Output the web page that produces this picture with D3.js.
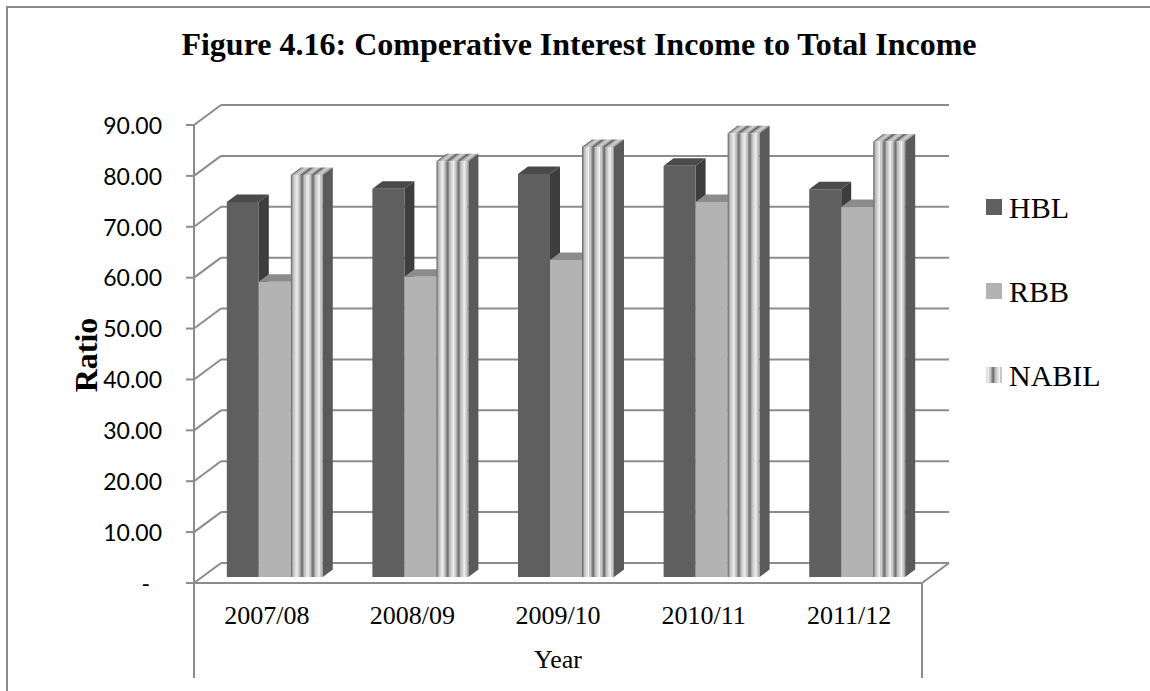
<!DOCTYPE html>
<html>
<head>
<meta charset="utf-8">
<script src="https://cdn.jsdelivr.net/npm/d3@7/dist/d3.min.js"></script>
<style>
  body { margin: 0; background: #fff; }
  svg { display: block; }
</style>
</head>
<body>
<svg id="chart"></svg>
<script>
// data
const years = ["2007/08", "2008/09", "2009/10", "2010/11", "2011/12"];
const seriesNames = ["HBL", "RBB", "NABIL"];
const hbl = [73.7, 76.3, 79.2, 80.8, 76.2];
const rbb = [58.0, 59.0, 62.3, 73.7, 72.7];
const nabil = [79.0, 81.7, 84.5, 87.2, 85.6];
const yTicks = [0, 10, 20, 30, 40, 50, 60, 70, 80, 90];

const W = 1150, H = 691;
const serif = "'Liberation Serif', 'Times New Roman', serif";
const sans = "Lato, 'Open Sans', sans-serif";

const svg = d3.select("#chart").attr("width", W).attr("height", H);

// frame
svg.append("rect")
    .attr("x", 7).attr("y", 7)
    .attr("width", W + 20).attr("height", H + 20)
    .attr("fill", "none").attr("stroke", "#8a8a8a").attr("stroke-width", 2);

// front plane geometry
const plotLeft = 194, plotRight = 922, plotBase = 583, plotTop = 125;
const depthX = 27, depthY = -20;   // back wall offset

const x = d3.scaleBand().domain(years).range([plotLeft, plotRight]);
const y = d3.scaleLinear().domain([0, 90]).range([plotBase, plotTop]);
const xs = d3.scaleBand().domain(seriesNames).range([0, 96]);

const grid = "#8c8c8c";
const g = svg.append("g");

// back wall gridlines + side wall diagonals
g.selectAll(".grid").data(yTicks).enter().append("line")
    .attr("x1", plotLeft + depthX).attr("x2", plotRight + depthX)
    .attr("y1", d => y(d) + depthY).attr("y2", d => y(d) + depthY)
    .attr("stroke", grid).attr("stroke-width", 2);
g.selectAll(".diag").data(yTicks).enter().append("line")
    .attr("x1", plotLeft).attr("x2", plotLeft + depthX)
    .attr("y1", d => y(d)).attr("y2", d => y(d) + depthY)
    .attr("stroke", grid).attr("stroke-width", 2);
// floor right edge
g.append("line")
    .attr("x1", plotRight).attr("x2", plotRight + depthX)
    .attr("y1", y(0)).attr("y2", y(0) + depthY)
    .attr("stroke", grid).attr("stroke-width", 2);

// stripe pattern for NABIL
const stripes = [
    [0, 1, "#6e6e6e"], [1, 1, "#9a9a9a"], [2, 2, "#c4c4c4"], [4, 2, "#e0e0e0"],
    [6, 1, "#f4f4f4"], [7, 2, "#c8c8c8"], [9, 1, "#a0a0a0"], [10, 1, "#808080"]
];
const defs = svg.append("defs");
function makePattern(id, transform, shade) {
    const p = defs.append("pattern")
        .attr("id", id)
        .attr("patternUnits", "userSpaceOnUse")
        .attr("width", 11).attr("height", 20)
        .attr("patternTransform", transform);
    p.selectAll("rect").data(stripes).enter().append("rect")
        .attr("x", d => d[0]).attr("y", 0)
        .attr("width", d => d[1]).attr("height", 20)
        .attr("fill", d => shade ? d3.color(d[2]).darker(shade) : d[2]);
}
makePattern("nabil-legend", "translate(986,0)", 0);

// bars
const barW = 32;
const bfx = 8, bfy = -6;          // bar front offset (inside depth)
const bdx = 10, bdy = -7.5;       // bar depth
const fills = {
    HBL: { front: "#5f5f5f", top: "#4a4a4a", side: "#3d3d3d" },
    RBB: { front: "#b3b3b3", top: "#8c8c8c", side: "#8a8a8a" },
    NABIL: { front: null, top: null, side: "#5a5a5a" }
};

const values = { HBL: hbl, RBB: rbb, NABIL: nabil };
const bars = [];
years.forEach((yr, i) => {
    seriesNames.forEach(s => {
        bars.push({ year: yr, series: s, value: values[s][i], idx: i });
    });
});

const barG = g.selectAll(".bar").data(bars).enter().append("g").attr("class", "bar");
barG.each(function (d) {
    const sel = d3.select(this);
    const x0 = x(d.year) + (x.bandwidth() - 96) / 2 + xs(d.series) + bfx;
    const yT = y(d.value) + bfy;
    const yB = y(0) + bfy;
    let front = fills[d.series].front, topF = fills[d.series].top;
    if (d.series === "NABIL") {
        makePattern("nf" + d.idx, `translate(${x0},0)`, 0);
        makePattern("nt" + d.idx, `translate(${x0},${yT}) skewX(-53)`, 0.35);
        front = `url(#nf${d.idx})`;
        topF = `url(#nt${d.idx})`;
    }
    sel.append("polygon")
        .attr("points", [[x0 + barW, yT], [x0 + barW + bdx, yT + bdy], [x0 + barW + bdx, yB + bdy], [x0 + barW, yB]].join(" "))
        .attr("fill", fills[d.series].side);
    sel.append("polygon")
        .attr("points", [[x0, yT], [x0 + barW, yT], [x0 + barW + bdx, yT + bdy], [x0 + bdx, yT + bdy]].join(" "))
        .attr("fill", topF);
    sel.append("rect")
        .attr("x", x0).attr("y", yT)
        .attr("width", barW).attr("height", yB - yT)
        .attr("fill", front);
});

// front axes
g.append("line").attr("x1", plotLeft).attr("x2", plotLeft).attr("y1", plotTop).attr("y2", 678)
    .attr("stroke", grid).attr("stroke-width", 2);
g.append("line").attr("x1", plotRight).attr("x2", plotRight).attr("y1", plotBase).attr("y2", 678)
    .attr("stroke", grid).attr("stroke-width", 2);
g.append("line").attr("x1", plotLeft).attr("x2", plotRight).attr("y1", plotBase).attr("y2", plotBase)
    .attr("stroke", grid).attr("stroke-width", 2);
g.selectAll(".tick").data(yTicks).enter().append("line")
    .attr("x1", plotLeft - 8).attr("x2", plotLeft)
    .attr("y1", d => y(d)).attr("y2", d => y(d))
    .attr("stroke", grid).attr("stroke-width", 2);

// tick labels
svg.selectAll(".ylab").data(yTicks).enter().append("text")
    .attr("x", 162).attr("y", d => y(d)).attr("dy", "0.38em")
    .attr("dx", d => d === 0 ? -12 : 0)
    .attr("text-anchor", "end")
    .attr("font-family", sans).attr("font-size", 23).attr("fill", "#000")
    .text(d => d === 0 ? "-" : d3.format(".2f")(d));

// category labels
svg.selectAll(".xlab").data(years).enter().append("text")
    .attr("x", d => x(d) + x.bandwidth() / 2).attr("y", 624)
    .attr("text-anchor", "middle")
    .attr("font-family", serif).attr("font-size", 26).attr("fill", "#000")
    .text(d => d);

// axis titles
svg.append("text")
    .attr("x", (plotLeft + plotRight) / 2).attr("y", 668)
    .attr("text-anchor", "middle")
    .attr("font-family", serif).attr("font-size", 26)
    .text("Year");
svg.append("text")
    .attr("transform", "translate(97,355) rotate(-90)")
    .attr("text-anchor", "middle")
    .attr("font-family", serif).attr("font-size", 32).attr("font-weight", "bold")
    .text("Ratio");

// title
svg.append("text")
    .attr("x", 579).attr("y", 55)
    .attr("text-anchor", "middle")
    .attr("font-family", serif).attr("font-size", 32).attr("font-weight", "bold")
    .text("Figure 4.16: Comperative Interest Income to Total Income");

// legend
const legendY = [207, 291, 375];
const leg = svg.selectAll(".leg").data(seriesNames).enter().append("g")
    .attr("transform", (d, i) => `translate(986,${legendY[i]})`);
leg.append("rect")
    .attr("x", 0).attr("y", -8).attr("width", 16).attr("height", 16)
    .attr("fill", d => d === "NABIL" ? "url(#nabil-legend)" : fills[d].front);
leg.append("text")
    .attr("x", 23).attr("y", 11)
    .attr("font-family", serif).attr("font-size", 30)
    .text(d => d);
</script>
</body>
</html>
